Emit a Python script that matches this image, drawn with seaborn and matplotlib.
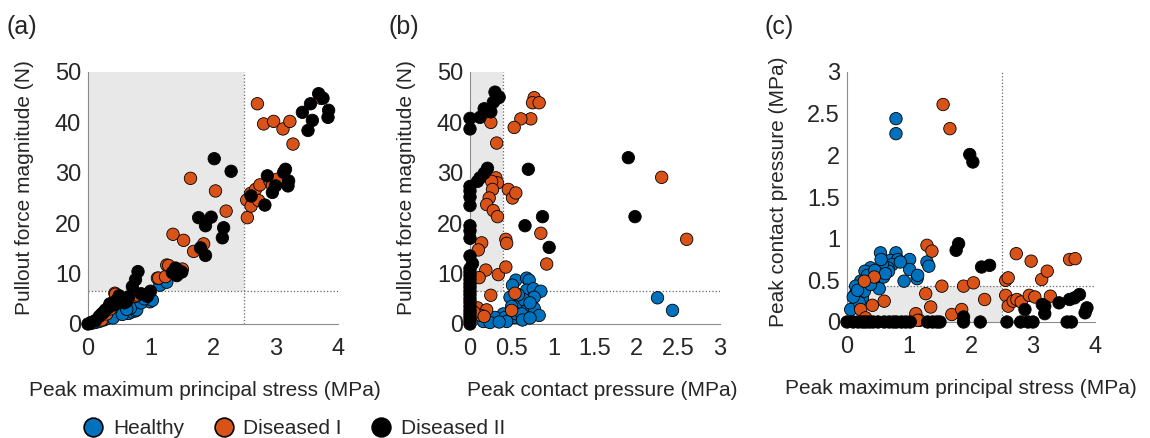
import matplotlib
matplotlib.use('Agg')
import matplotlib.pyplot as plt
from matplotlib.lines import Line2D
from matplotlib.patches import Rectangle
import seaborn as sns
import pandas as pd

# grupos y colores
groups = ['Healthy', 'Diseased I', 'Diseased II']
colors = {'Healthy': '#0072BD', 'Diseased I': '#D95319', 'Diseased II': '#000000'}

# (a) tension principal maxima (MPa) vs fuerza de extraccion (N)
a_healthy = [(0.05, 0.1), (0.12, 0.3), (0.18, 0.5), (0.25, 0.8), (0.31, 1.1), (0.38, 1.5),
             (0.44, 1.8), (0.51, 2.4), (0.58, 2.5), (0.65, 2.1), (0.70, 2.4), (0.76, 2.6),
             (0.78, 2.8), (0.68, 3.2), (0.99, 4.4), (1.03, 4.7), (1.15, 7.7), (1.26, 8.3),
             (0.40, 1.2), (0.55, 1.9), (0.62, 2.9), (0.85, 4.2), (0.90, 5.0)]
a_diseased1 = [(0.15, 0.8), (0.22, 0.8), (0.30, 2.0), (0.36, 3.0), (0.43, 6.1), (0.44, 5.9),
               (0.60, 4.5), (0.76, 5.5), (0.78, 5.75), (1.11, 9.1), (1.13, 9.1), (1.24, 9.4),
               (1.26, 11.7), (1.29, 11.6), (1.36, 17.8), (1.51, 10.9), (1.53, 16.6), (1.64, 28.9),
               (1.69, 14.4), (1.85, 15.9), (2.04, 26.4), (2.21, 22.4), (2.54, 24.6), (2.55, 21.1),
               (2.60, 25.9), (2.61, 23.4), (2.68, 26.7), (2.73, 24.5), (2.75, 27.6), (2.91, 28.4),
               (2.95, 27.5), (3.02, 28.7), (2.71, 43.7), (2.81, 39.7), (2.97, 40.2), (3.12, 38.7),
               (3.23, 40.2), (3.28, 35.7), (3.72, 44.8)]
a_diseased2 = [(0.00, 0.0), (0.05, 0.3), (0.12, 0.7), (0.18, 1.5), (0.22, 2.0), (0.28, 2.8),
               (0.33, 3.3), (0.39, 4.1), (0.45, 4.6), (0.50, 5.6), (0.55, 5.0), (0.62, 4.5),
               (0.71, 7.4), (0.76, 8.8), (0.80, 10.4), (0.95, 5.5), (1.00, 6.5), (1.35, 10.2),
               (1.40, 11.1), (1.45, 10.6), (1.50, 10.3), (1.42, 9.6), (1.80, 15.1), (1.88, 13.6),
               (1.77, 21.1), (1.97, 21.2), (1.88, 19.5), (2.17, 19.1), (2.15, 17.1), (2.02, 32.8),
               (2.29, 30.3), (2.61, 25.4), (2.83, 23.6), (2.87, 29.4), (2.95, 26.1), (3.00, 27.4),
               (3.13, 30.1), (3.16, 30.7), (3.21, 28.4), (3.20, 27.4), (3.43, 42.0), (3.56, 43.7),
               (3.69, 45.7), (3.76, 44.8), (3.85, 42.4), (3.84, 41.0), (3.59, 40.4), (3.52, 38.4),
               (0.25, 2.3), (0.42, 3.8), (0.58, 4.2), (0.85, 6.0), (0.35, 4.0), (0.48, 4.9),
               (0.65, 5.4)]

# (b) presion de contacto (MPa) vs fuerza de extraccion (N)
b_healthy = [(2.25, 5.2), (2.43, 2.7), (0.55, 8.7), (0.51, 7.7), (0.68, 9.1), (0.71, 8.7),
             (0.68, 6.7), (0.76, 7.0), (0.85, 6.5), (0.77, 5.3), (0.48, 5.3), (0.60, 4.0),
             (0.65, 4.8), (0.68, 2.7), (0.77, 3.1), (0.83, 1.7), (0.40, 2.0), (0.30, 1.3),
             (0.16, 0.5), (0.42, 1.3), (0.54, 1.3), (0.56, 2.0), (0.62, 2.0), (0.44, 0.5),
             (0.24, 0.3), (0.35, 0.4), (0.50, 3.5), (0.58, 5.8), (0.72, 4.2), (0.63, 0.8),
             (0.72, 1.2)]
b_diseased1 = [(0.77, 44.9), (0.75, 43.9), (0.83, 43.9), (0.73, 40.7), (0.61, 40.7), (0.53, 39.0),
               (0.25, 40.0), (0.32, 35.9), (0.31, 29.0), (0.33, 28.0), (0.26, 28.3), (0.27, 26.7),
               (0.23, 25.0), (0.20, 23.7), (0.28, 22.5), (0.33, 21.3), (0.46, 26.7), (0.51, 25.0),
               (0.55, 26.0), (0.43, 16.8), (0.44, 16.0), (0.14, 16.1), (0.10, 14.7), (0.85, 18.0),
               (0.92, 11.9), (0.19, 10.7), (0.11, 9.2), (0.34, 9.8), (0.43, 11.3), (0.25, 5.7),
               (0.54, 6.1), (0.50, 2.7), (0.09, 3.2), (0.20, 2.8), (0.13, 1.7), (2.30, 29.1),
               (2.60, 16.8), (0.05, 2.3), (0.17, 1.5)]
b_diseased2 = [(0.00, 40.8), (0.00, 38.7), (0.12, 41.0), (0.17, 42.7), (0.25, 42.1), (0.30, 46.0),
               (0.35, 45.0), (0.28, 44.0), (0.33, 44.8), (0.12, 29.0), (0.17, 29.9), (0.21, 30.9),
               (0.09, 28.3), (0.00, 27.3), (0.00, 26.4), (0.00, 25.2), (0.00, 23.5), (0.00, 19.5),
               (0.00, 18.5), (0.00, 17.0), (0.00, 13.5), (0.00, 11.0), (0.00, 10.3), (0.00, 9.6),
               (0.00, 8.8), (0.00, 8.0), (0.00, 7.3), (0.00, 6.5), (0.00, 5.8), (0.00, 5.0),
               (0.00, 4.3), (0.00, 3.5), (0.00, 2.7), (0.00, 2.0), (0.00, 1.3), (0.00, 0.6),
               (0.00, 0.0), (0.70, 30.7), (0.66, 19.5), (0.87, 21.3), (0.95, 15.2), (1.90, 33.0),
               (1.98, 21.3), (0.03, 12.0)]

# (c) tension principal maxima (MPa) vs presion de contacto (MPa)
c_healthy = [(0.79, 2.44), (0.79, 2.26), (0.54, 0.83), (0.79, 0.83), (0.70, 0.74), (0.82, 0.75),
             (0.73, 0.69), (0.66, 0.65), (1.01, 0.75), (1.01, 0.63), (1.13, 0.52), (1.14, 0.56),
             (0.92, 0.49), (1.29, 0.72), (1.32, 0.67), (0.38, 0.65), (0.29, 0.61), (0.44, 0.53),
             (0.33, 0.56), (0.49, 0.45), (0.52, 0.40), (0.22, 0.49), (0.14, 0.43), (0.13, 0.33),
             (0.06, 0.15), (0.25, 0.29), (0.20, 0.23), (0.28, 0.37), (0.38, 0.45), (0.59, 0.54),
             (0.67, 0.61), (0.57, 0.69), (0.10, 0.30), (0.17, 0.38), (0.45, 0.62), (0.62, 0.58),
             (0.55, 0.75), (0.86, 0.72)]
c_diseased1 = [(1.55, 2.61), (1.66, 2.32), (1.29, 0.92), (1.37, 0.85), (1.88, 0.43), (2.04, 0.47),
               (2.22, 0.27), (1.53, 0.43), (1.27, 0.34), (1.35, 0.18), (1.11, 0.10), (1.17, 0.02),
               (1.14, 0.02), (1.69, 0.09), (1.85, 0.15), (0.60, 0.25), (0.44, 0.54), (0.28, 0.49),
               (0.41, 0.20), (0.22, 0.15), (0.30, 0.05), (2.56, 0.50), (2.60, 0.53), (2.73, 0.82),
               (2.97, 0.73), (3.14, 0.51), (3.23, 0.61), (3.59, 0.75), (3.68, 0.76), (2.56, 0.32),
               (2.60, 0.19), (2.68, 0.25), (2.74, 0.27), (2.81, 0.24), (2.94, 0.32), (3.03, 0.30),
               (3.28, 0.31)]
c_diseased2 = [(1.98, 2.01), (2.03, 1.92), (1.80, 0.94), (1.76, 0.86), (2.17, 0.66), (2.30, 0.68),
               (0.00, 0.0), (0.10, 0.0), (0.18, 0.0), (0.25, 0.0), (0.30, 0.0), (0.36, 0.0),
               (0.42, 0.0), (0.50, 0.0), (0.60, 0.0), (0.68, 0.0), (0.75, 0.0), (0.80, 0.0),
               (0.88, 0.0), (0.95, 0.0), (1.02, 0.0), (1.30, 0.0), (1.38, 0.0), (1.45, 0.0),
               (1.50, 0.0), (1.88, 0.0), (2.15, 0.0), (2.58, 0.0), (2.80, 0.0), (2.92, 0.0),
               (3.00, 0.0), (3.55, 0.0), (3.62, 0.0), (2.87, 0.15), (3.15, 0.21), (3.19, 0.10),
               (3.42, 0.23), (3.59, 0.27), (3.67, 0.29), (3.75, 0.33), (3.87, 0.17), (3.84, 0.11),
               (3.19, 0.19), (1.88, 0.06)]

# umbrales (region sombreada)
stress_limit = 2.5
force_limit = 6.5
pressure_limit_b = 0.4
pressure_limit_c = 0.43

x_labels = ['Peak maximum principal stress (MPa)', 'Peak contact pressure (MPa)',
            'Peak maximum principal stress (MPa)']
y_labels = ['Pullout force magnitude (N)', 'Pullout force magnitude (N)',
            'Peak contact pressure (MPa)']
panel_tags = ['(a)', '(b)', '(c)']


def to_frame(healthy, d1, d2):
    rows = []
    for name, pts in zip(groups, [healthy, d1, d2]):
        for x, y in pts:
            rows.append({'x': x, 'y': y, 'group': name})
    return pd.DataFrame(rows)


sns.set_theme(style='white')
plt.rcParams['font.family'] = ['Liberation Sans', 'DejaVu Sans']
text_color = '#262626'
spine_color = '#8c8c8c'

fig = plt.figure(figsize=(11.5, 4.38), dpi=100)
W, H = 1150, 438

# posiciones de los ejes en pixeles (izq, abajo, ancho, alto)
boxes = [(88, 324, 250, 252), (470, 324, 250, 252), (847, 322, 248, 250)]
axes = [fig.add_axes([l / W, 1 - b / H, w / W, h / H]) for l, b, w, h in boxes]

frames = [to_frame(a_healthy, a_diseased1, a_diseased2),
          to_frame(b_healthy, b_diseased1, b_diseased2),
          to_frame(c_healthy, c_diseased1, c_diseased2)]

limits = [((0, 4), (0, 50)), ((0, 3), (0, 50)), ((0, 4), (0, 3))]
xticks = [[0, 1, 2, 3, 4], [0, 0.5, 1, 1.5, 2, 2.5, 3], [0, 1, 2, 3, 4]]
yticks = [[0, 10, 20, 30, 40, 50], [0, 10, 20, 30, 40, 50], [0, 0.5, 1, 1.5, 2, 2.5, 3]]


def fmt(v):
    return f'{v:g}'


for i, ax in enumerate(axes):
    (x0, x1), (y0, y1) = limits[i]
    # sombreado y lineas de umbral
    if i == 0:
        ax.add_patch(Rectangle((0, force_limit), stress_limit, 50 - force_limit,
                               color='#e8e8e8', zorder=0, lw=0))
        ax.axvline(stress_limit, ls=':', color='#666666', lw=0.9, zorder=1)
        ax.axhline(force_limit, ls=':', color='#666666', lw=0.9, zorder=1)
    elif i == 1:
        ax.add_patch(Rectangle((0, force_limit), pressure_limit_b, 50 - force_limit,
                               color='#e8e8e8', zorder=0, lw=0))
        ax.plot([pressure_limit_b, pressure_limit_b], [force_limit, 50], ls=':',
                color='#666666', lw=0.9, zorder=1)
        ax.axhline(force_limit, ls=':', color='#666666', lw=0.9, zorder=1)
    else:
        ax.add_patch(Rectangle((0, 0), stress_limit, pressure_limit_c,
                               color='#e8e8e8', zorder=0, lw=0))
        ax.axvline(stress_limit, ls=':', color='#666666', lw=0.9, zorder=1)
        ax.axhline(pressure_limit_c, ls=':', color='#666666', lw=0.9, zorder=1)

    sns.scatterplot(data=frames[i], x='x', y='y', hue='group', hue_order=groups,
                    palette=colors, s=80, edgecolor='black', linewidth=0.6,
                    legend=False, ax=ax, zorder=3, clip_on=False)

    ax.set_xlim(x0, x1)
    ax.set_ylim(y0, y1)
    ax.set_xticks(xticks[i])
    ax.set_xticklabels([fmt(v) for v in xticks[i]])
    ax.set_yticks(yticks[i])
    ax.set_yticklabels([fmt(v) for v in yticks[i]])
    ax.tick_params(direction='in', length=4, width=0.8, color=spine_color,
                   labelsize=17, labelcolor=text_color)
    ax.tick_params(axis='x', pad=10)
    ax.tick_params(axis='y', pad=5)
    for side in ['top', 'right']:
        ax.spines[side].set_visible(False)
    for side in ['left', 'bottom']:
        ax.spines[side].set_color(spine_color)
        ax.spines[side].set_linewidth(0.8)
    ax.set_xlabel(x_labels[i], fontsize=15, color=text_color)
    ax.set_ylabel(y_labels[i], fontsize=15, color=text_color)
    ax.set_facecolor('white')

axes[0].xaxis.set_label_coords(0.468, -0.225)
axes[1].xaxis.set_label_coords(0.53, -0.225)
axes[2].xaxis.set_label_coords(0.46, -0.23)
axes[0].yaxis.set_label_coords(-0.216, 0.54)
axes[1].yaxis.set_label_coords(-0.216, 0.54)
axes[2].yaxis.set_label_coords(-0.238, 0.52)

for tag, xpos in zip(panel_tags, [7, 389, 764]):
    fig.text(xpos / W, 1 - 27 / H, tag, fontsize=18, color=text_color, va='center')

handles = [Line2D([], [], marker='o', ls='', markersize=13.5, markerfacecolor=colors[g],
                  markeredgecolor='black', markeredgewidth=1.2, label=g) for g in groups]
fig.legend(handles=handles, loc='center', bbox_to_anchor=(294 / W, 9 / H), ncol=3,
           frameon=False, fontsize=15, handlelength=1.0, handletextpad=0.45,
           columnspacing=1.4, labelcolor=text_color)

fig.savefig('out.png', dpi=100)
